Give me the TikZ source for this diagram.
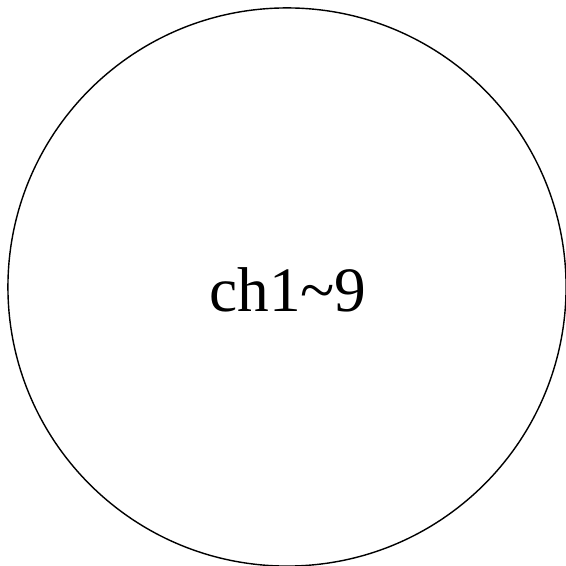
\documentclass[tikz,border=0pt]{standalone}
\usepackage{fontspec}
\setmainfont{Liberation Serif}
\usetikzlibrary{positioning}
\tikzset{
  every picture/.style={line width=1pt},
  part/.style={draw=black, circle, minimum size=13.95cm, inner sep=0pt},
  label/.style={font=\fontsize{45}{54}\selectfont, inner sep=0pt},
}
\begin{document}
\begin{tikzpicture}[x=0.025cm, y=0.025cm]
  \useasboundingbox (0,0) rectangle (566,566);
  % ---------- chapters ----------
  \node[part] (chs) at (287,279) {};
  \node[label, anchor=base] (chlbl) at (288,254) {ch1\char"007E 9};
\end{tikzpicture}
\end{document}
